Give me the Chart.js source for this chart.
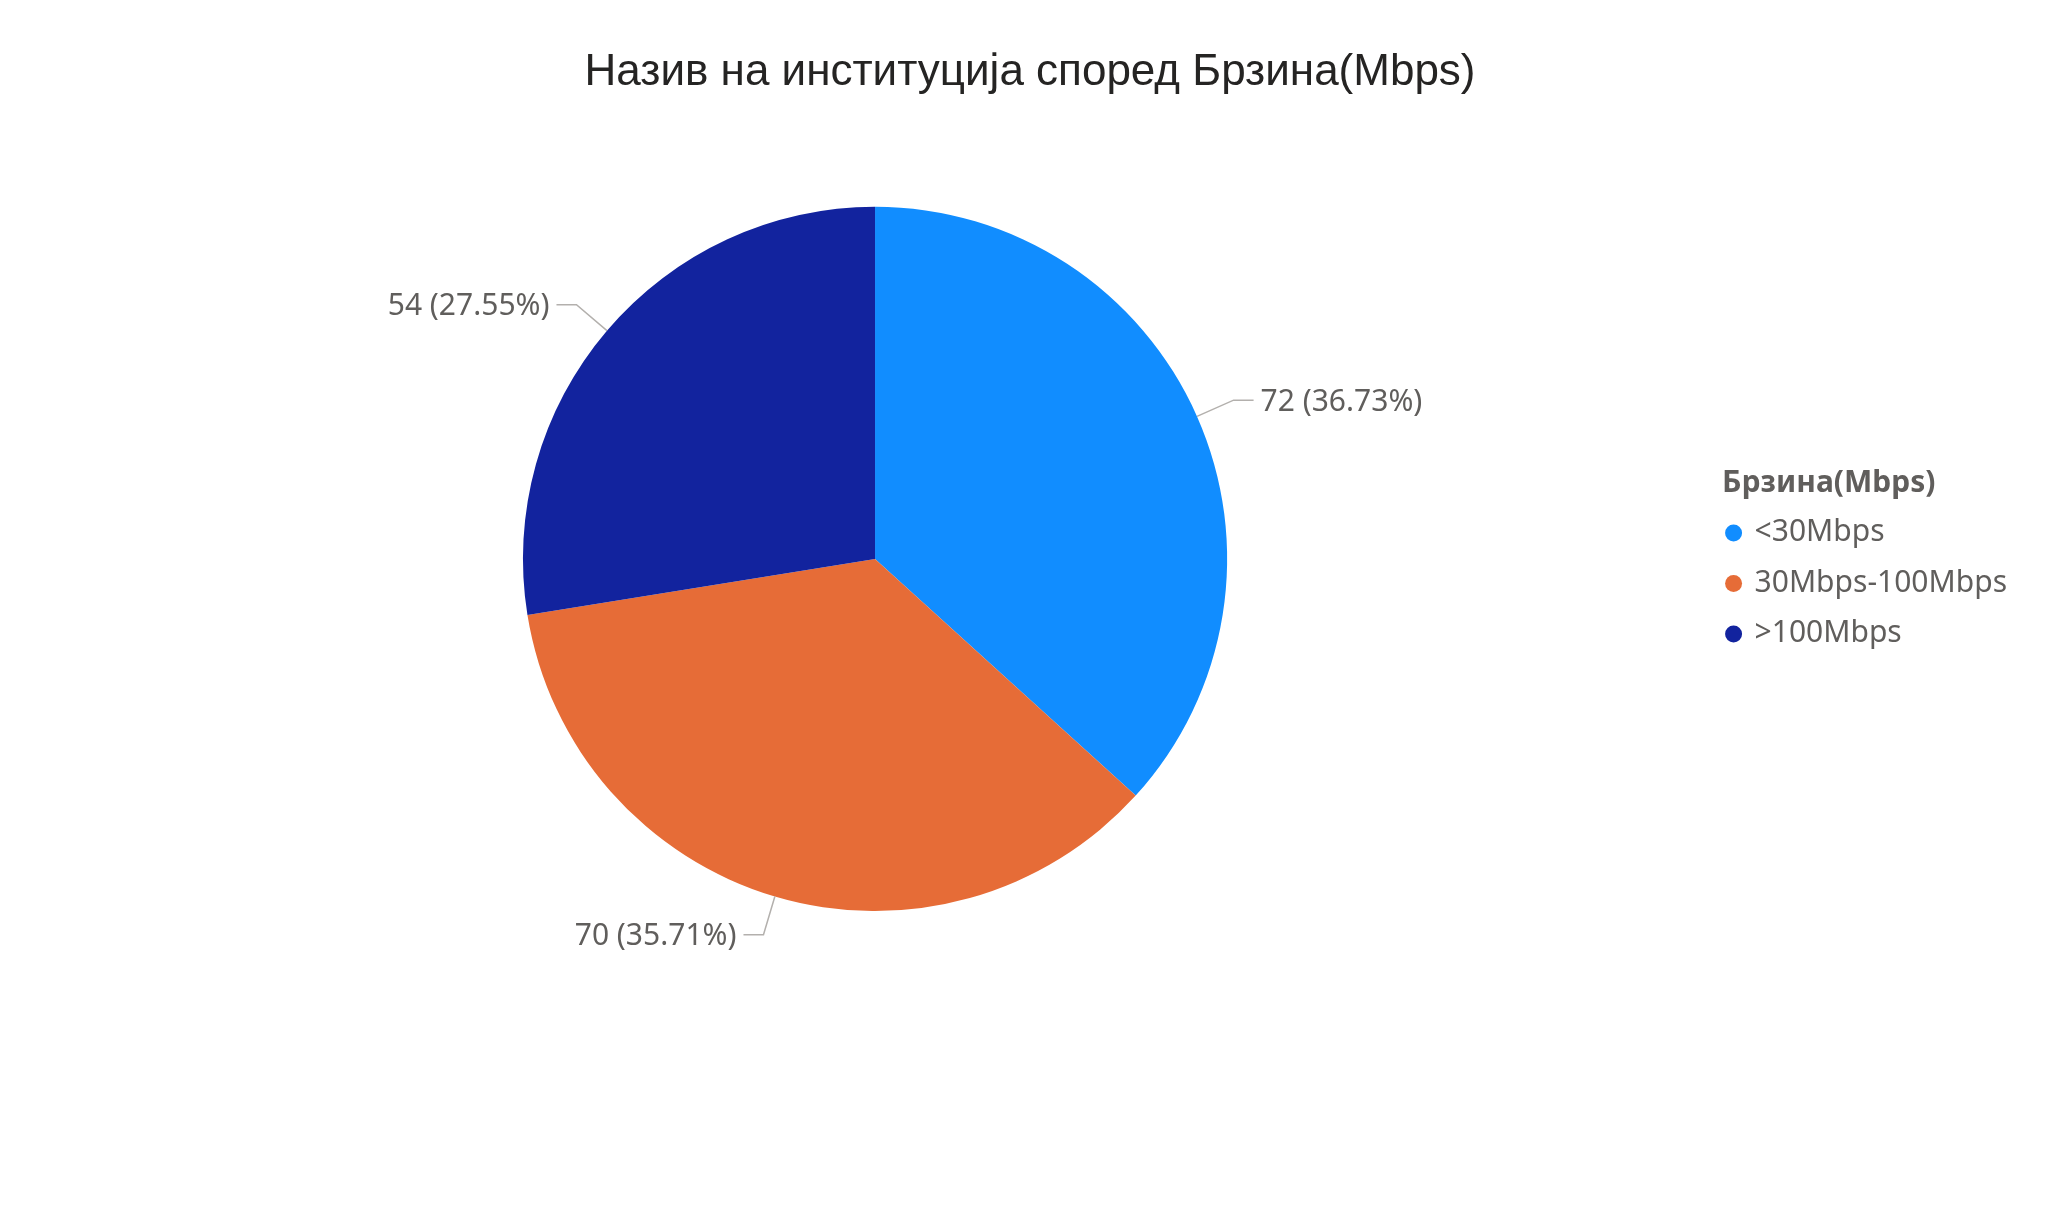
<!DOCTYPE html>
<html>
<head>
<meta charset="utf-8">
<script src="https://cdn.jsdelivr.net/npm/chart.js@4.4.1/dist/chart.umd.min.js"></script>
<style>
  html, body { margin: 0; padding: 0; background: #fff; }
  canvas { display: block; }
</style>
</head>
<body>
<canvas id="chart" width="2048" height="1215"></canvas>
<script>
// data
const categories = ["<30Mbps", "30Mbps-100Mbps", ">100Mbps"];
const counts = [72, 70, 54];
const sliceColors = ["#118DFF", "#E66C37", "#12239E"];
const chartTitle = "Назив на институција според Брзина(Mbps)";
const legendTitle = "\u2002Брзина(Mbps)";

const textGray = "#605E5C";

// labels with leader lines, like Power BI "outside" labels
const outsideLabels = {
  id: "outsideLabels",
  afterDatasetsDraw(chart) {
    const ctx = chart.ctx;
    const meta = chart.getDatasetMeta(0);
    const values = chart.data.datasets[0].data;
    const total = values.reduce((a, b) => a + b, 0);
    ctx.save();
    ctx.font = "30px 'Noto Sans'";
    ctx.textBaseline = "middle";
    meta.data.forEach((arc, i) => {
      const p = arc.getProps(["x", "y", "startAngle", "endAngle", "outerRadius"], true);
      const mid = (p.startAngle + p.endAngle) / 2;
      const cos = Math.cos(mid), sin = Math.sin(mid);
      const x0 = p.x + cos * p.outerRadius;
      const y0 = p.y + sin * p.outerRadius;
      const x1 = p.x + cos * (p.outerRadius + 40);
      const y1 = p.y + sin * (p.outerRadius + 40);
      const right = cos >= 0;
      const x2 = x1 + (right ? 20 : -20);
      ctx.strokeStyle = "#B3B0AD";
      ctx.lineWidth = 1.5;
      ctx.beginPath();
      ctx.moveTo(x0, y0);
      ctx.lineTo(x1, y1);
      ctx.lineTo(x2, y1);
      ctx.stroke();
      const pct = (values[i] / total * 100).toFixed(2);
      ctx.fillStyle = textGray;
      ctx.textAlign = right ? "left" : "right";
      ctx.fillText(values[i] + " (" + pct + "%)", x2 + (right ? 7 : -7), y1 + 2);
    });
    ctx.restore();
  }
};

new Chart(document.getElementById("chart"), {
  type: "pie",
  data: {
    labels: categories,
    datasets: [{
      data: counts,
      backgroundColor: sliceColors,
      borderWidth: 0
    }]
  },
  options: {
    responsive: false,
    animation: false,
    events: [],
    layout: { padding: { left: 43, right: 31, top: 0, bottom: 304 } },
    plugins: {
      title: {
        display: true,
        text: chartTitle,
        color: "#252423",
        font: { family: "'Liberation Sans'", size: 44, weight: "normal" },
        padding: { top: 46, bottom: 108 }
      },
      legend: {
        position: "right",
        align: "center",
        fullSize: false,
        title: {
          display: true,
          text: legendTitle,
          color: textGray,
          font: { family: "'Noto Sans'", size: 30, weight: "bold" },
          padding: { top: 20, bottom: -7 },
          position: "start"
        },
        labels: {
          usePointStyle: true,
          pointStyle: "circle",
          boxWidth: 12,
          boxHeight: 12,
          padding: 20.5,
          color: textGray,
          font: { family: "'Noto Sans'", size: 30 }
        }
      },
      tooltip: { enabled: false }
    }
  },
  plugins: [outsideLabels]
});
</script>
</body>
</html>
